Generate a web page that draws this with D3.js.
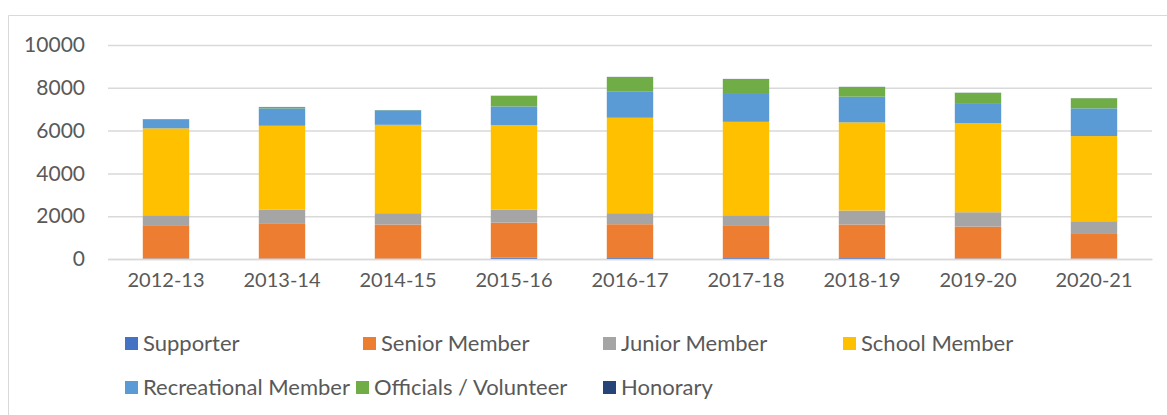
<!DOCTYPE html>
<html>
<head>
<meta charset="utf-8">
<script src="https://cdn.jsdelivr.net/npm/d3@7"></script>
<style>
  body { margin: 0; background: #fff; }
  text { font-family: Lato, "Open Sans", sans-serif; fill: #595959; }
</style>
</head>
<body>
<div id="chart"></div>
<script>
// membership by season, stacked
var seasons = ["2012-13", "2013-14", "2014-15", "2015-16", "2016-17", "2017-18", "2018-19", "2019-20", "2020-21"];
var seriesNames = ["Supporter", "Senior Member", "Junior Member", "School Member", "Recreational Member", "Officials / Volunteer", "Honorary"];
var supporter    = [25, 20, 15, 60, 80, 45, 45, 25, 20];
var senior       = [1520, 1620, 1595, 1640, 1545, 1500, 1565, 1490, 1150];
var junior       = [500, 675, 530, 610, 515, 500, 655, 670, 595];
var school       = [4060, 3910, 4130, 3945, 4460, 4365, 4120, 4165, 3980];
var recreational = [390, 815, 675, 875, 1215, 1345, 1200, 935, 1295];
var officials    = [35, 60, 10, 495, 690, 655, 455, 480, 470];
var honorary     = [5, 5, 5, 5, 5, 5, 5, 5, 5];
var yTicks = [0, 2000, 4000, 6000, 8000, 10000];
var colors = ["#4472C4", "#ED7D31", "#A5A5A5", "#FFC000", "#5B9BD5", "#70AD47", "#264478"];

var W = 1167, H = 415;
var margin = {top: 45, right: 15, bottom: 156, left: 108};
var width = W - margin.left - margin.right,
    height = H - margin.top - margin.bottom;

var svg = d3.select("#chart").append("svg")
  .attr("width", W).attr("height", H);

// chart frame
svg.append("path")
  .attr("d", "M8.5," + H + "V15.5H" + W)
  .attr("fill", "none").attr("stroke", "#d9d9d9").attr("stroke-width", 1);

var g = svg.append("g")
  .attr("transform", "translate(" + margin.left + "," + margin.top + ")");

var rows = seasons.map(function(s, i) {
  return {
    season: s,
    "Supporter": supporter[i],
    "Senior Member": senior[i],
    "Junior Member": junior[i],
    "School Member": school[i],
    "Recreational Member": recreational[i],
    "Officials / Volunteer": officials[i],
    "Honorary": honorary[i]
  };
});

var x = d3.scaleBand().domain(seasons).range([0, width]).paddingInner(0.6).paddingOuter(0.3);
var y = d3.scaleLinear().domain([0, 10000]).range([height, 0]);
var color = d3.scaleOrdinal().domain(seriesNames).range(colors);

// gridlines
g.append("g")
  .call(d3.axisLeft(y).tickValues(yTicks).tickSize(-width).tickFormat(""))
  .call(function(a) {
    a.select(".domain").remove();
    a.selectAll("line").attr("stroke", "#d9d9d9").attr("stroke-width", 1.5);
  });

// y labels
g.append("g")
  .call(d3.axisLeft(y).tickValues(yTicks).tickSize(0).tickPadding(23).tickFormat(d3.format("d")))
  .call(function(a) {
    a.select(".domain").remove();
    a.selectAll("text").style("font-size", "21px").attr("fill", "#595959");
  });

var stack = d3.stack().keys(seriesNames);
g.selectAll(".layer")
  .data(stack(rows))
  .enter().append("g")
  .attr("fill", function(d) { return color(d.key); })
  .selectAll("rect")
  .data(function(d) { return d; })
  .enter().append("rect")
  .attr("x", function(d) { return x(d.data.season); })
  .attr("y", function(d) { return y(d[1]); })
  .attr("width", x.bandwidth())
  .attr("height", function(d) { return y(d[0]) - y(d[1]); });

// x axis
g.append("g")
  .attr("transform", "translate(0," + height + ")")
  .call(d3.axisBottom(x).tickSize(0).tickPadding(14))
  .call(function(a) {
    a.select(".domain").attr("stroke", "#d9d9d9").attr("stroke-width", 1.5);
    a.selectAll("text").style("font-size", "20px").attr("fill", "#595959");
  });

// legend
var legendPos = [[125, 343], [363, 343], [603, 343], [843, 343], [125, 387], [356, 387], [603, 387]];
var legend = svg.selectAll(".legend")
  .data(seriesNames)
  .enter().append("g")
  .attr("transform", function(d, i) { return "translate(" + legendPos[i][0] + "," + legendPos[i][1] + ")"; });
legend.append("rect")
  .attr("x", 0).attr("y", -6).attr("width", 13).attr("height", 13)
  .attr("fill", function(d) { return color(d); });
legend.append("text")
  .attr("x", 18).attr("dy", "0.35em")
  .style("font-size", "22px")
  .text(function(d) { return d; });
</script>
</body>
</html>
